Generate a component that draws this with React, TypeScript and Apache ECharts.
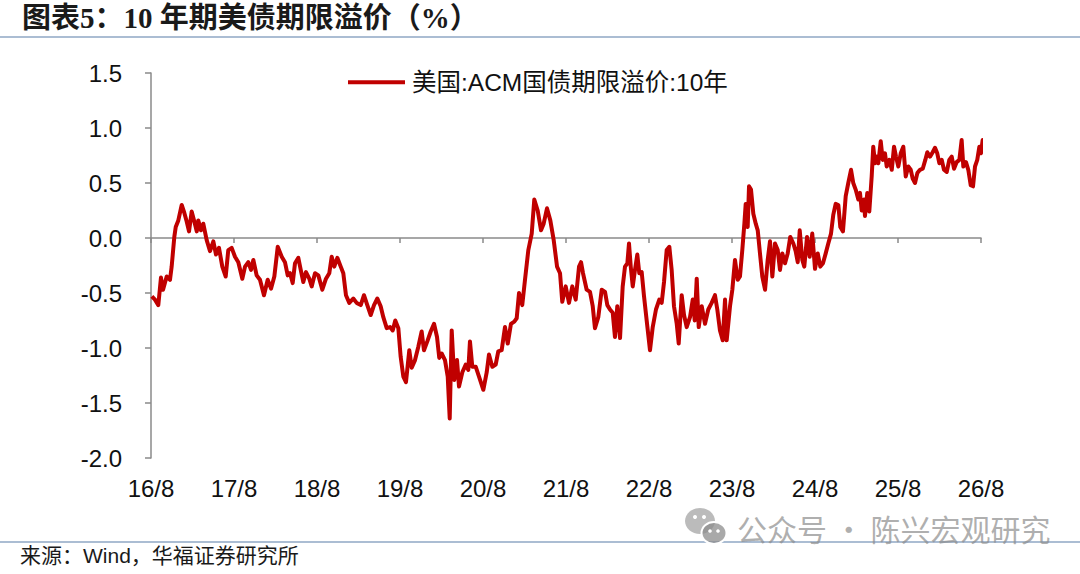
import React, { useEffect, useRef } from "react";
import * as echarts from "echarts";

// Years elapsed since Aug 2016 (x axis) and 10y ACM term premium (%)
const yearsSinceAug2016: number[] = [
  0.01, 0.048, 0.088, 0.12, 0.145, 0.189, 0.229, 0.249, 0.281, 0.298, 0.329, 0.37, 0.401, 0.43, 0.458, 0.49,
  0.522, 0.551, 0.57, 0.602, 0.63, 0.671, 0.711, 0.751, 0.783, 0.819, 0.859, 0.9, 0.931, 0.972, 1.012, 1.052,
  1.1, 1.133, 1.172, 1.205, 1.233, 1.273, 1.313, 1.361, 1.406, 1.446, 1.486, 1.527, 1.575, 1.614, 1.647, 1.675,
  1.707, 1.735, 1.775, 1.804, 1.835, 1.867, 1.907, 1.936, 1.976, 2.016, 2.064, 2.108, 2.148, 2.177, 2.208, 2.245,
  2.286, 2.317, 2.349, 2.389, 2.437, 2.478, 2.527, 2.566, 2.606, 2.647, 2.687, 2.727, 2.767, 2.799, 2.84, 2.88,
  2.912, 2.943, 2.98, 3.008, 3.04, 3.072, 3.112, 3.141, 3.181, 3.22, 3.261, 3.289, 3.329, 3.37, 3.41, 3.446,
  3.473, 3.502, 3.542, 3.575, 3.599, 3.623, 3.654, 3.687, 3.711, 3.751, 3.792, 3.823, 3.843, 3.871, 3.912, 3.952,
  4.004, 4.045, 4.072, 4.112, 4.153, 4.184, 4.225, 4.265, 4.298, 4.337, 4.377, 4.406, 4.434, 4.473, 4.506, 4.546,
  4.587, 4.618, 4.659, 4.699, 4.731, 4.771, 4.811, 4.852, 4.892, 4.928, 4.955, 4.996, 5.036, 5.076, 5.117, 5.157,
  5.181, 5.205, 5.249, 5.289, 5.322, 5.349, 5.389, 5.43, 5.47, 5.498, 5.53, 5.563, 5.59, 5.618, 5.651, 5.683,
  5.711, 5.739, 5.759, 5.78, 5.804, 5.831, 5.859, 5.883, 5.912, 5.94, 5.972, 6.012, 6.045, 6.084, 6.124, 6.153,
  6.181, 6.213, 6.245, 6.273, 6.301, 6.334, 6.358, 6.394, 6.422, 6.454, 6.494, 6.527, 6.551, 6.575, 6.599, 6.635,
  6.675, 6.714, 6.755, 6.795, 6.823, 6.855, 6.888, 6.916, 6.936, 6.976, 7.004, 7.036, 7.069, 7.096, 7.124, 7.149,
  7.165, 7.189, 7.205, 7.229, 7.257, 7.286, 7.31, 7.337, 7.365, 7.398, 7.43, 7.458, 7.486, 7.518, 7.551, 7.578,
  7.606, 7.639, 7.671, 7.702, 7.739, 7.767, 7.792, 7.816, 7.847, 7.871, 7.904, 7.936, 7.967, 8.0, 8.033, 8.064,
  8.096, 8.129, 8.16, 8.193, 8.22, 8.249, 8.281, 8.305, 8.337, 8.37, 8.401, 8.434, 8.461, 8.49, 8.522, 8.542,
  8.563, 8.59, 8.602, 8.63, 8.654, 8.683, 8.702, 8.723, 8.743, 8.763, 8.792, 8.816, 8.843, 8.864, 8.896, 8.925,
  8.952, 8.976, 9.004, 9.033, 9.064, 9.093, 9.124, 9.153, 9.177, 9.205, 9.233, 9.265, 9.298, 9.329, 9.353, 9.386,
  9.418, 9.446, 9.473, 9.498, 9.527, 9.554, 9.587, 9.618, 9.647, 9.675, 9.707, 9.739, 9.767, 9.787, 9.819, 9.847,
  9.876, 9.904, 9.928, 9.955, 9.98, 10.0, 10.02, 10.046,
];

const termPremium: number[] = [
  -0.53, -0.56, -0.61, -0.36, -0.47, -0.35, -0.38, -0.26, 0.01, 0.1, 0.16, 0.3, 0.23, 0.15, 0.06, 0.24,
  0.15, 0.06, 0.16, 0.07, 0.13, -0.02, -0.12, -0.03, -0.15, -0.09, -0.26, -0.35, -0.11, -0.09, -0.17, -0.22,
  -0.37, -0.26, -0.22, -0.29, -0.2, -0.34, -0.38, -0.52, -0.38, -0.46, -0.35, -0.08, -0.17, -0.22, -0.34, -0.32,
  -0.41, -0.23, -0.18, -0.29, -0.4, -0.31, -0.37, -0.44, -0.32, -0.34, -0.47, -0.37, -0.32, -0.17, -0.26, -0.18,
  -0.26, -0.32, -0.52, -0.59, -0.55, -0.59, -0.61, -0.52, -0.61, -0.7, -0.61, -0.55, -0.62, -0.72, -0.82, -0.81,
  -0.84, -0.75, -0.82, -1.08, -1.26, -1.31, -1.02, -1.18, -1.11, -0.99, -0.85, -1.02, -0.94, -0.85, -0.78, -0.9,
  -1.09, -1.05, -1.11, -1.26, -1.64, -0.84, -1.29, -1.11, -1.35, -1.22, -1.15, -1.2, -0.94, -1.17, -1.17, -1.26,
  -1.38, -1.22, -1.06, -1.17, -1.15, -1.03, -1.02, -0.81, -0.96, -0.78, -0.76, -0.73, -0.5, -0.61, -0.38, -0.11,
  0.04, 0.35, 0.25, 0.07, 0.13, 0.27, 0.16, -0.02, -0.26, -0.32, -0.58, -0.44, -0.59, -0.44, -0.56, -0.26,
  -0.22, -0.32, -0.47, -0.49, -0.62, -0.82, -0.72, -0.47, -0.49, -0.61, -0.65, -0.68, -0.9, -0.62, -0.91, -0.44,
  -0.26, -0.23, -0.05, -0.26, -0.44, -0.29, -0.15, -0.32, -0.31, -0.53, -0.75, -1.02, -0.81, -0.65, -0.56, -0.59,
  -0.4, -0.11, -0.08, -0.29, -0.62, -0.78, -0.96, -0.52, -0.7, -0.81, -0.72, -0.56, -0.75, -0.37, -0.81, -0.62,
  -0.78, -0.65, -0.59, -0.52, -0.65, -0.84, -0.93, -0.56, -0.93, -0.62, -0.47, -0.2, -0.38, -0.35, -0.11, 0.13,
  0.31, 0.1, 0.47, 0.44, 0.22, 0.13, 0.07, -0.14, -0.35, -0.47, -0.2, -0.03, -0.35, -0.05, -0.11, -0.29,
  -0.14, -0.23, -0.14, 0.01, -0.05, -0.12, -0.22, 0.07, -0.2, -0.26, 0.01, -0.17, 0.04, -0.28, -0.14, -0.26,
  -0.23, -0.14, -0.05, 0.04, 0.21, 0.31, 0.3, 0.1, 0.06, 0.38, 0.5, 0.62, 0.5, 0.44, 0.35, 0.41,
  0.25, 0.35, 0.2, 0.41, 0.24, 0.56, 0.83, 0.68, 0.74, 0.68, 0.88, 0.71, 0.77, 0.65, 0.71, 0.62,
  0.83, 0.74, 0.65, 0.77, 0.83, 0.56, 0.65, 0.62, 0.54, 0.5, 0.59, 0.62, 0.63, 0.71, 0.78, 0.74,
  0.78, 0.82, 0.77, 0.68, 0.71, 0.62, 0.6, 0.71, 0.74, 0.63, 0.69, 0.71, 0.89, 0.65, 0.69, 0.62,
  0.48, 0.47, 0.65, 0.71, 0.83, 0.77, 0.89, 0.8,
];

const xTickYears: number[] = [0, 1, 2, 3, 4, 5, 6, 7, 8, 9, 10];
const xTickLabels: string[] = ["16/8", "17/8", "18/8", "19/8", "20/8", "21/8", "22/8", "23/8", "24/8", "25/8", "26/8"];

const seriesName = "美国:ACM国债期限溢价:10年";
const titleText = "图表5：10 年期美债期限溢价（%）";
const sourceText = "来源：Wind，华福证券研究所";
const watermarkText = "公众号 · 陈兴宏观研究";

const SANS = "'Liberation Sans', Arial, 'Noto Sans CJK SC', sans-serif";
const SERIF = "'Liberation Serif', 'Times New Roman', 'Noto Sans CJK SC', serif";
const AXIS_GRAY = "#8a8a8a";
const RULE_BLUE = "#8fa7c4";

export default function App() {
  const ref = useRef<HTMLDivElement | null>(null);

  useEffect(() => {
    document.body.style.margin = "0";
    if (!ref.current) return;
    const chart = echarts.init(ref.current, undefined, { renderer: "svg" });
    const data = yearsSinceAug2016.map((t, i) => [t, termPremium[i]]);

    chart.setOption({
      animation: false,
      backgroundColor: "#ffffff",
      grid: { left: 151, right: 99, top: 73, bottom: 116, containLabel: false },
      legend: {
        show: true,
        left: 348,
        top: 70,
        padding: 0,
        icon: "rect",
        itemWidth: 57,
        itemHeight: 4,
        itemGap: 10,
        data: [seriesName],
        textStyle: { fontSize: 24.5, color: "#111", fontFamily: SANS, padding: [0, 0, 0, 2] },
      },
      xAxis: [
        {
          type: "value",
          min: 0,
          max: 10,
          interval: 1,
          axisLine: { show: true, onZero: true, lineStyle: { color: AXIS_GRAY, width: 1.5 } },
          axisTick: { show: true, length: 5, lineStyle: { color: AXIS_GRAY, width: 1.5 } },
          axisLabel: { show: false },
          splitLine: { show: false },
        },
        {
          type: "value",
          min: 0,
          max: 10,
          interval: 1,
          position: "bottom",
          axisLine: { show: false, onZero: false },
          axisTick: { show: false },
          axisLabel: {
            show: true,
            fontSize: 24,
            color: "#111",
            fontFamily: SANS,
            margin: 18,
            formatter: (v: number) => {
              const idx = xTickYears.indexOf(Math.round(v));
              return Math.abs(v - Math.round(v)) < 1e-6 && idx >= 0 ? xTickLabels[idx] : "";
            },
          },
          splitLine: { show: false },
        },
      ],
      yAxis: {
        type: "value",
        min: -2,
        max: 1.5,
        interval: 0.5,
        axisLine: { show: true, lineStyle: { color: AXIS_GRAY, width: 1.5 } },
        axisTick: { show: true, inside: false, length: 6, lineStyle: { color: AXIS_GRAY, width: 1.5 } },
        axisLabel: {
          fontSize: 24,
          color: "#111",
          fontFamily: SANS,
          margin: 29,
          formatter: (v: number) => v.toFixed(1),
        },
        splitLine: { show: false },
      },
      series: [
        {
          name: seriesName,
          type: "line",
          xAxisIndex: 0,
          data,
          symbol: "none",
          showSymbol: false,
          clip: false,
          lineStyle: { color: "#c00000", width: 4, join: "round" },
          itemStyle: { color: "#c00000" },
        },
      ],
      graphic: [
        {
          type: "text",
          left: 22,
          top: 3,
          style: { text: titleText, font: `bold 29px ${SERIF}`, fill: "#1a1a1a" },
        },
        {
          type: "line",
          shape: { x1: 0, y1: 37, x2: 1080, y2: 37 },
          style: { stroke: RULE_BLUE, lineWidth: 1.5 },
        },
        {
          type: "line",
          shape: { x1: 0, y1: 542, x2: 1080, y2: 542 },
          style: { stroke: RULE_BLUE, lineWidth: 1.5 },
        },
        {
          type: "text",
          left: 20,
          top: 545,
          style: { text: sourceText, font: `21px ${SANS}`, fill: "#1a1a1a" },
        },
        {
          type: "group",
          children: [
            { type: "ellipse", shape: { cx: 700, cy: 521, rx: 15, ry: 13 }, style: { fill: "rgba(150,150,150,0.65)" } },
            { type: "circle", shape: { cx: 695, cy: 517, r: 2 }, style: { fill: "#ffffff" } },
            { type: "circle", shape: { cx: 704, cy: 517, r: 2 }, style: { fill: "#ffffff" } },
            {
              type: "ellipse",
              shape: { cx: 714, cy: 533, rx: 12.5, ry: 11 },
              style: { fill: "rgba(140,140,140,0.75)", stroke: "#ffffff", lineWidth: 2 },
            },
            { type: "circle", shape: { cx: 710, cy: 531, r: 1.8 }, style: { fill: "#ffffff" } },
            { type: "circle", shape: { cx: 718, cy: 531, r: 1.8 }, style: { fill: "#ffffff" } },
          ],
        },
        {
          type: "text",
          left: 737,
          top: 513,
          style: { text: watermarkText, font: `30px 'Noto Sans CJK SC', sans-serif`, fill: "rgba(140,140,140,0.7)" },
        },
      ],
    });

    return () => {
      chart.dispose();
    };
  }, []);

  return <div ref={ref} style={{ width: 1080, height: 574 }} />;
}
